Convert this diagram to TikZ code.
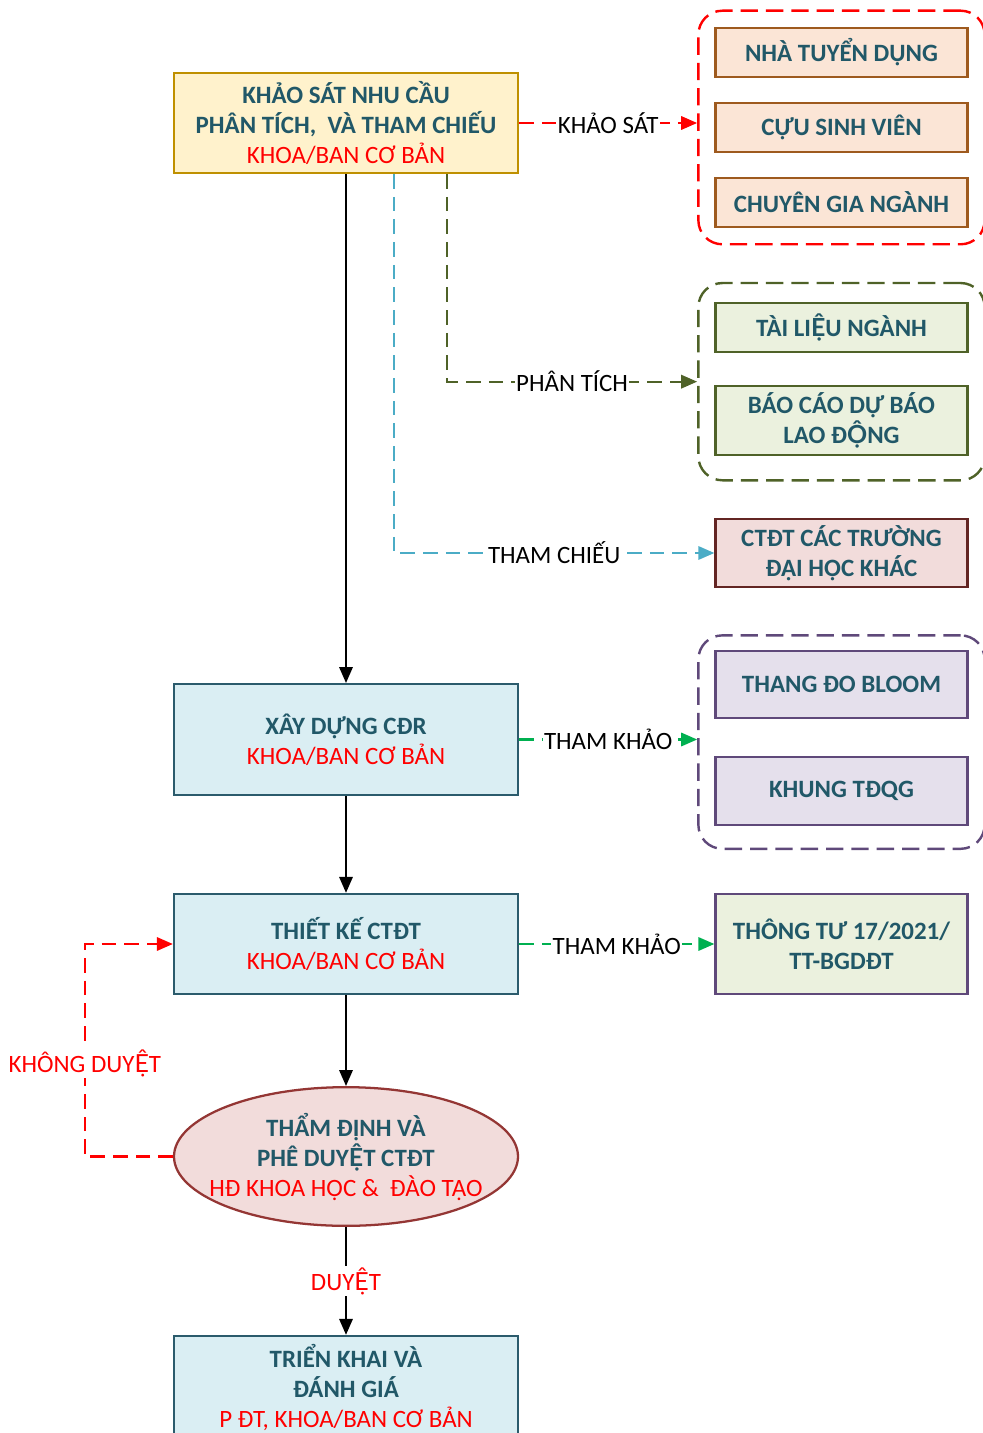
\documentclass[tikz,border=0pt]{standalone}
\usepackage{fontspec}
\setmainfont{Carlito}
\newfontfamily\vnfont{Lato}
\usetikzlibrary{shapes,arrows.meta,fit}

\definecolor{titleTeal}{HTML}{215868}
\definecolor{goldLine}{HTML}{BF9000}
\definecolor{goldFill}{HTML}{FFF2CC}
\definecolor{tealLine}{HTML}{2B5B6C}
\definecolor{blueFill}{HTML}{DAEEF3}
\definecolor{brownLine}{HTML}{9E5A1E}
\definecolor{peachFill}{HTML}{FBE5D6}
\definecolor{oliveLine}{HTML}{4F6228}
\definecolor{oliveFill}{HTML}{EBF1DE}
\definecolor{maroonLine}{HTML}{632523}
\definecolor{roseFill}{HTML}{F2DCDB}
\definecolor{roseLine}{HTML}{943634}
\definecolor{purpleLine}{HTML}{5F497A}
\definecolor{lilacFill}{HTML}{E5E0EC}
\definecolor{skyLine}{HTML}{4BACC6}
\definecolor{greenLine}{HTML}{00B050}

% Carlito drops the hat on these two, Lato has them
\newcommand{\vnEhat}{{\vnfont Ệ}}
\newcommand{\vnOhat}{{\vnfont Ộ}}
\newcommand{\boxtitle}[1]{{\color{titleTeal}\bfseries #1}}
\newcommand{\boxowner}[1]{{\color{red}#1}}

\tikzstyle{mainbox} = [rectangle, draw=tealLine, fill=blueFill, line width=1.7pt, minimum width=258pt, minimum height=75pt, align=center, font=\fontsize{18.7}{22.5}\selectfont]
\tikzstyle{surveybox} = [mainbox, draw=goldLine, fill=goldFill]
\tikzstyle{approval} = [ellipse, draw=roseLine, fill=roseFill, line width=1.7pt, minimum width=258pt, minimum height=104pt, inner xsep=-15pt, inner ysep=0pt, align=center, font=\fontsize{18.7}{22.5}\selectfont]
\tikzstyle{source} = [rectangle, line width=1.7pt, minimum width=189pt, minimum height=37pt, align=center, text=titleTeal, font=\fontsize{18.7}{22.5}\selectfont\bfseries]
\tikzstyle{group} = [rectangle, rounded corners=18pt, line width=1.8pt, dash pattern=on 13pt off 6pt, inner sep=12pt]
\tikzstyle{arrow} = [line width=1.7pt, -{Triangle[length=12pt,width=10pt]}]
\tikzstyle{link} = [arrow, dash pattern=on 11pt off 6pt]
\tikzstyle{linklabel} = [fill=white, inner sep=1pt, text=black, font=\fontsize{18.7}{22.5}\selectfont]

\begin{document}
\begin{tikzpicture}[x=0.75pt, y=0.75pt, node distance=56.25pt]
\useasboundingbox (0,0) rectangle (982,-1433);

% main flow
\node [surveybox] (khaoSat) at (346,-123) {\boxtitle{KHẢO SÁT NHU CẦU}\\\boxtitle{PHÂN TÍCH,~ VÀ THAM CHIẾU}\\\boxowner{KHOA/BAN CƠ BẢN}};
\node [mainbox, minimum height=83pt] (xayDung) at (346,-739.5) {\boxtitle{XÂY DỰNG CĐR}\\\boxowner{KHOA/BAN CƠ BẢN}};
\node [mainbox] (thietKe) at (346,-944) {\boxtitle{THIẾT KẾ CTĐT}\\\boxowner{KHOA/BAN CƠ BẢN}};
\node [approval] (thamDinh) at (346,-1156.5) {\boxtitle{THẨM ĐỊNH VÀ}\\\boxtitle{PHÊ DUY\vnEhat T CTĐT}\\\boxowner{HĐ KHOA HỌC \&~ ĐÀO TẠO}};
\node [mainbox, minimum height=76.5pt] (trienKhai) at (346,-1387) {\boxtitle{TRIỂN KHAI VÀ}\\\boxtitle{ĐÁNH GIÁ}\\\boxowner{P ĐT, KHOA/BAN CƠ BẢN}};

% khao sat
\node [source, draw=brownLine, fill=peachFill] (nhaTuyenDung) at (841.5,-52.5) {NHÀ TUYỂN DỤNG};
\node [source, draw=brownLine, fill=peachFill, below of=nhaTuyenDung] (cuuSinhVien) {CỰU SINH VIÊN};
\node [source, draw=brownLine, fill=peachFill, below of=cuuSinhVien] (chuyenGia) {CHUYÊN GIA NGÀNH};
\node [group, draw=red, fit=(nhaTuyenDung)(chuyenGia)] (khaoSatGroup) {};

% phan tich
\node [source, draw=oliveLine, fill=oliveFill] (taiLieu) at (841.5,-327.5) {TÀI LI\vnEhat U NGÀNH};
\node [source, draw=oliveLine, fill=oliveFill, minimum height=52pt] (baoCao) at (841.5,-420.5) {BÁO CÁO DỰ BÁO\\LAO Đ\vnOhat NG};
\node [group, draw=oliveLine, inner ysep=16pt, yshift=-2pt, fit=(taiLieu)(baoCao)] (phanTichGroup) {};

% tham chieu
\node [source, draw=maroonLine, fill=roseFill, minimum height=51pt] (ctdtKhac) at (841.5,-553) {CTĐT CÁC TRƯỜNG\\ĐẠI HỌC KHÁC};

% tham khao
\node [source, draw=purpleLine, fill=lilacFill, minimum height=50pt] (bloom) at (841.5,-684.5) {THANG ĐO BLOOM};
\node [source, draw=purpleLine, fill=lilacFill, minimum height=51pt] (khungTdqg) at (841.5,-791) {KHUNG TĐQG};
\node [group, draw=purpleLine, inner ysep=14pt, yshift=-3pt, fit=(bloom)(khungTdqg)] (thamKhaoGroup) {};
\node [source, draw=purpleLine, fill=oliveFill, minimum height=75pt] (thongTu) at (841.5,-944) {THÔNG TƯ 17/2021/\\TT-BGDĐT};

% connectors
\draw [arrow] (khaoSat) -- (xayDung);
\draw [arrow] (xayDung) -- (thietKe);
\draw [arrow] (thietKe) -- (thamDinh);
\draw [arrow] (thamDinh) -- (trienKhai) node [linklabel, midway, text=red] {DUY\vnEhat T};

\draw [link, red] (khaoSat.east) -- (khaoSat.east -| khaoSatGroup.west) node [linklabel, midway] {KHẢO SÁT};
\draw [link, oliveLine] ([xshift=75.75pt]khaoSat.south) |- (phanTichGroup.west) node [linklabel, pos=0.75] {PHÂN TÍCH};
\draw [link, skyLine] ([xshift=36pt]khaoSat.south) |- (ctdtKhac.west) node [linklabel, pos=0.75] {THAM CHIẾU};
\draw [link, greenLine] (xayDung.east) -- (xayDung.east -| thamKhaoGroup.west) node [linklabel, midway] {THAM KHẢO};
\draw [link, greenLine] (thietKe.east) -- (thongTu.west) node [linklabel, midway] {THAM KHẢO};
\draw [link, red] (thamDinh.west) -| ([xshift=-66pt]thietKe.west) node [linklabel, pos=0.72, text=red] {KHÔNG DUY\vnEhat T} -- (thietKe.west);

\end{tikzpicture}
\end{document}
